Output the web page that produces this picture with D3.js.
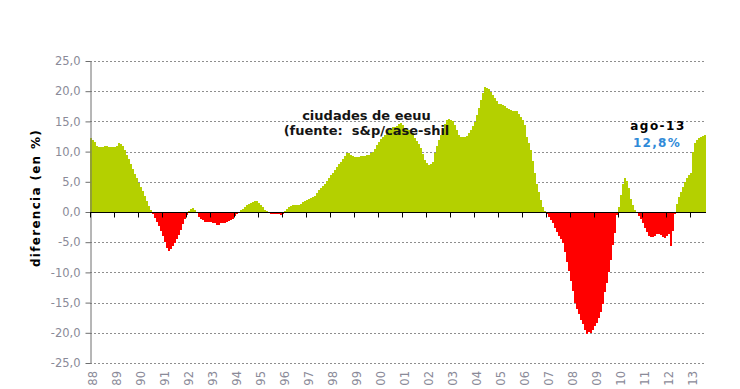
<!DOCTYPE html>
<meta charset="utf-8">
<script src="https://d3js.org/d3.v7.min.js"></script>
<style>
  body { margin: 0; background: #fff; }
  text { font-family: "DejaVu Sans", Verdana, sans-serif; }
</style>
<body>
<svg width="740" height="389"></svg>
<script>
// year labels on the category axis (one per January)
var yearLabels = ["88","89","90","91","92","93","94","95","96","97","98","99","00",
                  "01","02","03","04","05","06","07","08","09","10","11","12","13"];

// monthly difference in %, jan-88 .. ago-13 (12 per row)
var diff = [
  12.3, 12.0, 11.6, 10.9, 10.7, 10.7, 10.8, 11.0, 11.0, 10.8, 10.7, 10.7,
  10.7, 11.0, 11.4, 11.3, 10.9, 10.2, 9.5, 8.7, 8.0, 7.1, 6.3, 5.6,
  4.8, 4.1, 3.4, 2.6, 1.8, 1.0, 0.3, -0.4, -1.0, -1.6, -2.3, -3.1,
  -3.9, -5.0, -6.0, -6.4, -6.2, -5.7, -5.1, -4.4, -3.8, -2.9, -2.0, -1.2,
  -0.5, 0.1, 0.5, 0.7, 0.4, -0.2, -0.8, -1.2, -1.4, -1.6, -1.7, -1.7,
  -1.7, -1.8, -1.9, -2.2, -2.1, -1.9, -1.9, -1.8, -1.7, -1.5, -1.3, -1.1,
  -0.7, -0.3, 0.0, 0.3, 0.5, 0.8, 1.1, 1.3, 1.5, 1.7, 1.8, 1.8,
  1.5, 1.1, 0.8, 0.4, 0.1, -0.1, -0.3, -0.3, -0.3, -0.3, -0.4, -0.5,
  -0.3, 0.2, 0.5, 0.8, 1.0, 1.1, 1.1, 1.1, 1.2, 1.4, 1.6, 1.8,
  2.0, 2.1, 2.3, 2.5, 2.7, 3.2, 3.6, 3.9, 4.3, 4.7, 5.2, 5.6,
  6.1, 6.5, 7.0, 7.5, 7.9, 8.3, 8.7, 9.2, 9.7, 9.8, 9.5, 9.2,
  9.1, 9.1, 9.1, 9.2, 9.3, 9.3, 9.4, 9.4, 9.7, 10.0, 10.5, 11.1,
  11.6, 12.1, 12.5, 12.8, 13.2, 13.6, 13.8, 14.0, 14.1, 14.2, 14.5, 14.8,
  14.4, 13.9, 13.7, 13.6, 13.6, 13.0, 12.2, 11.7, 11.2, 10.6, 9.6, 8.6,
  8.1, 7.8, 7.9, 8.3, 9.8, 11.0, 12.0, 12.8, 13.7, 14.5, 15.2, 15.4,
  15.3, 15.0, 14.4, 13.6, 12.8, 12.5, 12.4, 12.4, 12.6, 13.0, 13.6, 14.2,
  14.9, 16.0, 17.2, 18.5, 19.7, 20.7, 20.6, 20.3, 19.9, 19.4, 18.9, 18.4,
  17.9, 17.8, 17.7, 17.6, 17.3, 17.1, 16.9, 16.8, 16.8, 16.7, 16.3, 15.8,
  15.2, 14.4, 12.5, 11.4, 10.3, 8.5, 6.5, 4.7, 3.3, 2.0, 0.9, 0.2,
  -0.4, -0.8, -1.3, -1.8, -2.6, -3.3, -3.9, -4.5, -5.1, -6.6, -8.2, -9.7,
  -11.4, -13.0, -15.0, -16.0, -16.9, -17.8, -18.6, -19.5, -20.2, -19.8, -20.0, -19.6,
  -18.9, -18.3, -17.5, -16.5, -15.2, -13.2, -11.8, -10.0, -8.0, -5.5, -3.5, -0.5,
  0.8, 2.8, 4.6, 5.6, 5.2, 4.0, 2.2, 1.2, 0.4, -0.2, -0.6, -1.1,
  -1.8, -2.7, -3.3, -3.9, -4.1, -4.1, -4.0, -3.7, -3.6, -3.8, -4.1, -4.3,
  -4.0, -3.7, -5.6, -3.2, -0.4, 1.3, 2.5, 3.3, 4.2, 5.0, 5.6, 6.1,
  6.4, 10.0, 11.5, 11.9, 12.2, 12.4, 12.6, 12.8
];

var yTicks = [25, 20, 15, 10, 5, 0, -5, -10, -15, -20, -25];

var titleLines = ["ciudades de eeuu", "(fuente:  s&p/case-shil"];
var lastLabel = "ago-13";
var lastValue = "12,8%";

var svg = d3.select("svg"),
    margin = {top: 61, right: 34, bottom: 26, left: 90},
    width = +svg.attr("width") - margin.left - margin.right,
    height = +svg.attr("height") - margin.top - margin.bottom,
    g = svg.append("g").attr("transform", "translate(" + margin.left + "," + margin.top + ")");

var x = d3.scaleBand()
    .domain(d3.range(diff.length))
    .range([0, width])
    .padding(0);

var y = d3.scaleLinear()
    .domain([-25, 25])
    .range([height, 0]);

var fmt = function(d) { return d3.format(".1f")(d).replace(".", ",").replace("−", "-"); };

// dashed gridlines
g.append("g")
  .selectAll("line")
  .data(yTicks.filter(function(d) { return d !== 0; }))
  .enter().append("line")
  .attr("x1", 0)
  .attr("x2", width)
  .attr("y1", function(d) { return Math.round(y(d)) + 0.5; })
  .attr("y2", function(d) { return Math.round(y(d)) + 0.5; })
  .attr("stroke", "#8e8e8e")
  .attr("stroke-dasharray", "2,2");

// bars
g.append("g")
  .attr("shape-rendering", "crispEdges")
  .selectAll("rect")
  .data(diff)
  .enter().append("rect")
  .attr("x", function(d, i) { return x(i); })
  .attr("width", x.bandwidth())
  .attr("y", function(d) { return y(Math.max(0, d)); })
  .attr("height", function(d) { return Math.abs(y(d) - y(0)); })
  .attr("fill", function(d) { return d >= 0 ? "#b4d000" : "#ff0000"; });

// y axis
var yAxis = g.append("g")
  .attr("class", "axis")
  .attr("transform", "translate(0.5,0)")
  .call(d3.axisLeft(y).tickValues(yTicks).tickSize(5).tickSizeOuter(0).tickFormat(fmt));
yAxis.select(".domain").attr("stroke", "#6e6e6e");
yAxis.selectAll(".tick line").attr("stroke", "#6e6e6e");
yAxis.selectAll(".tick text")
  .attr("x", -10)
  .attr("fill", "#8a8a98")
  .attr("font-size", "11.5px")
  .attr("font-family", "DejaVu Sans, sans-serif");

// category axis on the zero line
var yearStarts = yearLabels.map(function(d, i) { return i * 12; });
var zero = Math.round(y(0)) + 0.5;
g.append("line")
  .attr("x1", 0).attr("x2", width)
  .attr("y1", zero).attr("y2", zero)
  .attr("stroke", "#000");
g.append("g")
  .selectAll("line")
  .data(yearStarts)
  .enter().append("line")
  .attr("x1", function(d) { return Math.round(x(d)) + 0.5; })
  .attr("x2", function(d) { return Math.round(x(d)) + 0.5; })
  .attr("y1", zero)
  .attr("y2", zero + 5)
  .attr("stroke", "#000");

// year labels at the bottom
g.append("g")
  .selectAll("text")
  .data(yearLabels)
  .enter().append("text")
  .attr("transform", function(d, i) { return "translate(" + (x(yearStarts[i]) + 2.5) + "," + (height + 8) + ") rotate(-90)"; })
  .attr("dy", "0.35em")
  .attr("text-anchor", "end")
  .attr("fill", "#8a8a98")
  .attr("font-size", "11.5px")
  .text(function(d) { return d; });

// y axis title
svg.append("text")
  .attr("transform", "translate(40,198) rotate(-90)")
  .attr("text-anchor", "middle")
  .attr("font-weight", "bold")
  .attr("font-size", "12px")
  .attr("letter-spacing", "1.3px")
  .attr("fill", "#000")
  .text("diferencia (en %)");

// chart title
svg.append("g")
  .selectAll("text")
  .data(titleLines)
  .enter().append("text")
  .attr("x", 366.5)
  .attr("y", function(d, i) { return 120 + i * 14.5; })
  .attr("text-anchor", "middle")
  .attr("font-weight", "bold")
  .attr("font-size", "13px")
  .attr("fill", "#141414")
  .style("white-space", "pre")
  .text(function(d) { return d; });

// last value annotation
svg.append("text")
  .attr("x", 658)
  .attr("y", 130)
  .attr("text-anchor", "middle")
  .attr("font-weight", "bold")
  .attr("font-size", "12px")
  .attr("letter-spacing", "1.5px")
  .attr("fill", "#000")
  .text(lastLabel);

svg.append("text")
  .attr("x", 657)
  .attr("y", 147)
  .attr("text-anchor", "middle")
  .attr("font-weight", "bold")
  .attr("font-size", "12px")
  .attr("letter-spacing", "1.3px")
  .attr("fill", "#2f8ad8")
  .text(lastValue);
</script>
</body>
